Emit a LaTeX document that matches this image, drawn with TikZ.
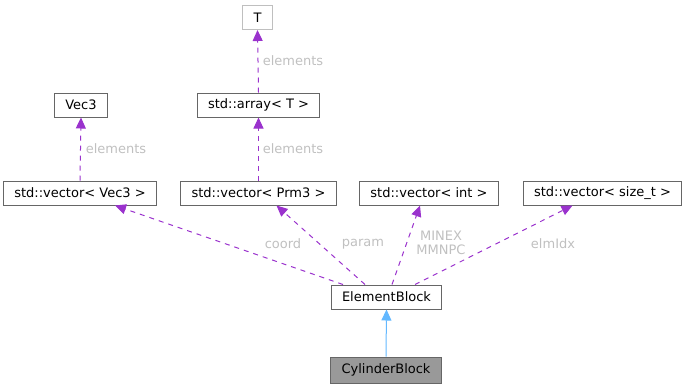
\documentclass[tikz,border=0pt]{standalone}
\usepackage{fontspec}
\setmainfont{DejaVu Sans}
\usetikzlibrary{arrows.meta}
\definecolor{Edge}{HTML}{9A32CD}
\definecolor{Inh}{HTML}{63B8FF}
\definecolor{Frame}{HTML}{666666}
\definecolor{Faint}{HTML}{BFBFBF}
\definecolor{Lbl}{HTML}{C0C0C0}
\definecolor{Self}{HTML}{999999}

\begin{document}
\begin{tikzpicture}[x=1pt, y=-1pt, font=\fontsize{13}{14.5}\selectfont,
  cls/.style={draw=Frame, line width=1pt, fill=white, minimum height=24pt, inner xsep=11pt, inner ysep=0pt},
  member/.style={draw=Edge, line width=1pt, dash pattern=on 5pt off 5pt, -{Triangle[length=11pt, width=10pt]}},
  lbl/.style={text=Lbl, align=center, inner sep=1pt, font=\fontsize{13}{13.5}\selectfont}]
  \useasboundingbox (0,0) rectangle (687,389);
  % classes
  \node[cls, draw=Faint] (t) at (257.5,17.5) {T};
  \node[cls] (v3) at (81,105) {Vec3};
  \node[cls] (arr) at (258.5,105) {std::array< T >};
  \node[cls] (vv) at (80,193) {std::vector< Vec3 >};
  \node[cls] (vp) at (258.5,193) {std::vector< Prm3 >};
  \node[cls] (vi) at (429,193) {std::vector< int >};
  \node[cls] (vs) at (602.5,193) {std::vector< size\_t >};
  \node[cls] (eb) at (386.5,297) {ElementBlock};
  \node[cls, fill=Self, minimum height=26pt] (cb) at (386,370) {CylinderBlock};
  % members
  \draw[member] (arr.north) -- (t.south);
  \draw[member] (vv.north) -- (v3.south);
  \draw[member] (vp.north) -- (arr.south);
  \draw[member] ([xshift=-43.5pt]eb.north) -- ([xshift=35pt]vv.south);
  \draw[member] ([xshift=-21.5pt]eb.north) -- ([xshift=18pt]vp.south);
  \draw[member] ([xshift=5.5pt]eb.north) -- ([xshift=-9pt]vi.south);
  \draw[member] ([xshift=28.5pt]eb.north) -- ([xshift=-30pt]vs.south);
  \node[lbl] (l1) at (293,61) {elements};
  \node[lbl] (l2) at (116,149) {elements};
  \node[lbl] (l3) at (293,149) {elements};
  \node[lbl] (l4) at (283,244) {coord};
  \node[lbl] (l5) at (363,244) {param};
  \node[lbl] (l6) at (441,243) {MINEX\\MMNPC};
  \node[lbl] (l7) at (553,244) {elmIdx};
  % inheritance
  \draw[draw=Inh, line width=1pt, -{Triangle[length=11pt, width=10pt]}] (cb.north) -- (eb.south);
\end{tikzpicture}
\end{document}
